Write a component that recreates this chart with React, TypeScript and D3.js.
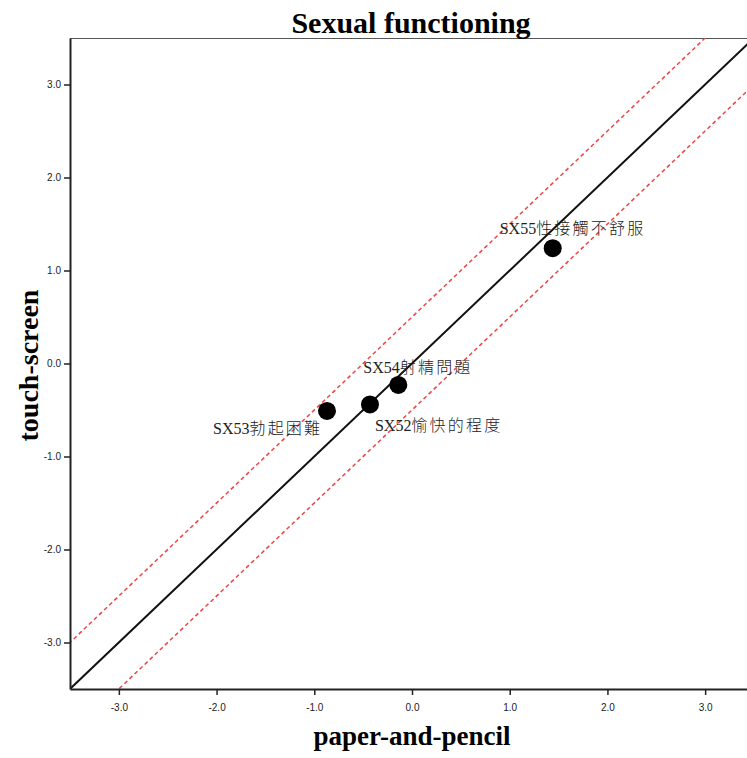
import React, { useEffect, useRef } from "react";
import * as d3 from "d3";

// item codes, Chinese item names, and the two administration scores
const itemCodes = ["SX52", "SX53", "SX54", "SX55"];
const itemNames = ["愉快的程度", "勃起困難", "射精問題", "性接觸不舒服"];
const paperScores = [-0.43, -0.87, -0.14, 1.44];
const touchScores = [-0.44, -0.51, -0.23, 1.24];

const axisTicks = [-3, -2, -1, 0, 1, 2, 3];
const bandOffset = 0.5;

// label placement relative to each point (px)
const labelOffsets = [
  [5, 27],
  [-114, 23],
  [-35, -12],
  [-53, -14],
];

const W = 747;
const H = 758;

export default function App() {
  const ref = useRef<SVGSVGElement | null>(null);

  useEffect(() => {
    const svg = d3.select(ref.current);
    svg.selectAll("*").remove();

    const left = 70;
    const top = 38;
    const bottom = 689;

    const x = d3.scaleLinear().domain([-3.5, 3.5]).range([left, 754]);
    const y = d3.scaleLinear().domain([-3.5, 3.5]).range([bottom, top]);

    svg
      .append("defs")
      .append("clipPath")
      .attr("id", "plot-clip")
      .append("rect")
      .attr("x", left)
      .attr("y", top)
      .attr("width", W - left)
      .attr("height", bottom - top);

    // top border
    svg
      .append("line")
      .attr("x1", left)
      .attr("x2", W)
      .attr("y1", top + 0.5)
      .attr("y2", top + 0.5)
      .attr("stroke", "#555")
      .attr("stroke-width", 1);

    const plot = svg.append("g").attr("clip-path", "url(#plot-clip)");

    // identity line and +/- band
    const line = d3
      .line<number>()
      .x((d) => x(d))
      .y((d) => y(d));
    plot
      .append("path")
      .attr("d", line([-3.5, 3.5]))
      .attr("fill", "none")
      .attr("stroke", "#111")
      .attr("stroke-width", 2);

    [bandOffset, -bandOffset].forEach((off) => {
      const band = d3
        .line<number>()
        .x((d) => x(d))
        .y((d) => y(d + off));
      plot
        .append("path")
        .attr("d", band([-4.5, 4.5]))
        .attr("fill", "none")
        .attr("stroke", "#ee4444")
        .attr("stroke-width", 1.5)
        .attr("stroke-dasharray", "4,3");
    });

    // points
    plot
      .selectAll("circle")
      .data(itemCodes)
      .join("circle")
      .attr("cx", (_, i) => x(paperScores[i]))
      .attr("cy", (_, i) => y(touchScores[i]))
      .attr("r", 9)
      .attr("fill", "#000");

    // labels
    const labels = svg
      .selectAll("text.pt-label")
      .data(itemCodes)
      .join("text")
      .attr("class", "pt-label")
      .attr("x", (_, i) => x(paperScores[i]) + labelOffsets[i][0])
      .attr("y", (_, i) => y(touchScores[i]) + labelOffsets[i][1])
      .attr("fill", "#222")
      .style("font-size", "16px")
      .style("font-family", "'Liberation Serif', 'Noto Sans CJK TC', serif");
    labels.append("tspan").text((d) => d);
    labels
      .append("tspan")
      .style("font-family", "'Noto Sans CJK TC', sans-serif")
      .style("font-weight", "300")
      .attr("letter-spacing", 2.2)
      .text((_, i) => itemNames[i]);

    // axes
    const fmt = (v: d3.NumberValue) => (+v).toFixed(1);

    const xAxis = svg
      .append("g")
      .attr("transform", `translate(0,${bottom})`)
      .call(
        d3.axisBottom(x).tickValues(axisTicks).tickFormat(fmt).tickSize(6).tickSizeOuter(0).tickPadding(9)
      );
    const yAxis = svg
      .append("g")
      .attr("transform", `translate(${left},0)`)
      .call(
        d3.axisLeft(y).tickValues(axisTicks).tickFormat(fmt).tickSize(6).tickSizeOuter(0).tickPadding(3)
      );

    [xAxis, yAxis].forEach((g) => {
      g.select(".domain").attr("stroke", "#222").attr("stroke-width", 2);
      g.selectAll(".tick line").attr("stroke", "#222").attr("stroke-width", 1.5);
      g.selectAll(".tick text")
        .attr("fill", "#222")
        .style("font-size", "10px")
        .style("font-family", "'Liberation Sans', Arial, sans-serif");
    });

    // title and axis labels
    svg
      .append("text")
      .attr("x", 411)
      .attr("y", 33)
      .attr("text-anchor", "middle")
      .style("font-family", "'Liberation Serif', serif")
      .style("font-weight", "bold")
      .style("font-size", "30px")
      .text("Sexual functioning");

    svg
      .append("text")
      .attr("x", 412)
      .attr("y", 745)
      .attr("text-anchor", "middle")
      .style("font-family", "'Liberation Serif', serif")
      .style("font-weight", "bold")
      .style("font-size", "27px")
      .text("paper-and-pencil");

    svg
      .append("text")
      .attr("transform", "rotate(-90)")
      .attr("x", -(top + bottom) / 2 - 2)
      .attr("y", 38)
      .attr("text-anchor", "middle")
      .style("font-family", "'Liberation Serif', serif")
      .style("font-weight", "bold")
      .style("font-size", "28px")
      .text("touch-screen");
  }, []);

  return (
    <svg
      ref={ref}
      width={W}
      height={H}
      style={{ position: "absolute", left: 0, top: 0, background: "#fff" }}
    />
  );
}
